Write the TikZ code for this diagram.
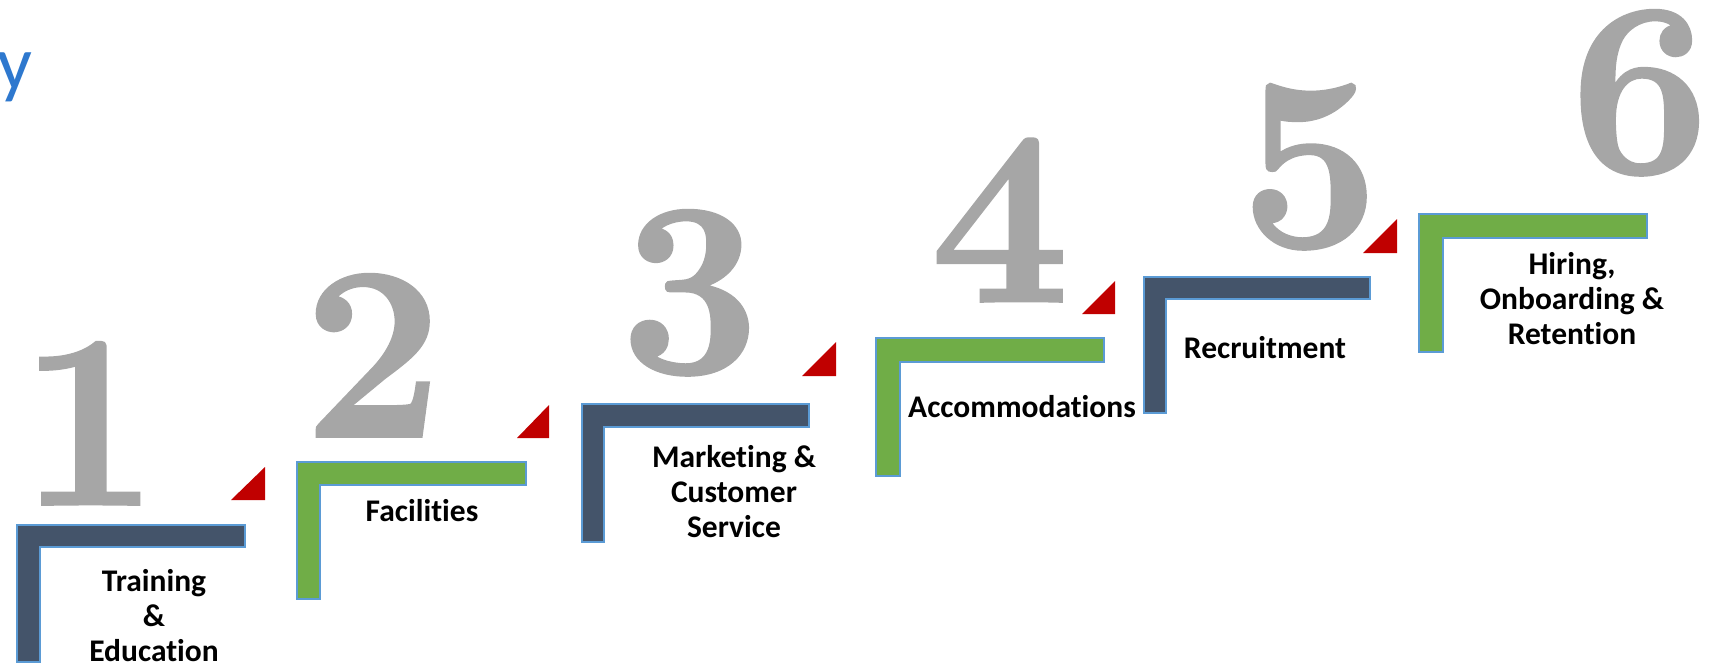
\documentclass[tikz,border=0pt]{standalone}
\usepackage{fontspec}
\newfontfamily\labelfont[Ligatures=NoCommon]{Carlito}
\newfontfamily\numfont[FakeBold=1.5]{Latin Modern Roman}
\definecolor{slate}{HTML}{44546A}
\definecolor{leaf}{HTML}{70AD47}
\definecolor{edgeblue}{HTML}{5B9BD5}
\definecolor{markred}{HTML}{C00000}
\definecolor{numgray}{HTML}{A6A6A6}
\definecolor{titleblue}{HTML}{2E78CE}
\begin{document}
\begin{tikzpicture}[x=1pt,y=-1pt,
  stepdark/.style={fill=slate,draw=edgeblue,line width=1.5pt},
  stepgreen/.style={fill=leaf,draw=edgeblue,line width=1.5pt},
  marker/.style={fill=markred},
  numeral/.style={text=numgray,inner sep=0pt,anchor=base,
    font=\numfont\fontsize{246}{246}\selectfont\bfseries},
  steplabel/.style={inner sep=0pt,align=center,
    font=\labelfont\bfseries\fontsize{31.5}{35}\selectfont}]
\useasboundingbox (0,0) rectangle (1727,665);
\clip (0,0) rectangle (1727,665);

% tail of the title line
\node[text=titleblue,inner sep=0pt,anchor=base east,
  font=\labelfont\fontsize{77}{77}\selectfont] (title) at (33,89) {y};

% stair steps: L-shaped brackets
\draw[stepdark]  (17,525) -- (245,525) -- (245,547) -- (40,547) -- (40,662) -- (17,662) -- cycle;
\draw[stepgreen] (297,462) -- (526,462) -- (526,485) -- (320,485) -- (320,599) -- (297,599) -- cycle;
\draw[stepdark]  (582,404) -- (809,404) -- (809,427) -- (604,427) -- (604,542) -- (582,542) -- cycle;
\draw[stepgreen] (876,338) -- (1104,338) -- (1104,362) -- (900,362) -- (900,476) -- (876,476) -- cycle;
\draw[stepdark]  (1144,277) -- (1370,277) -- (1370,299) -- (1166,299) -- (1166,413) -- (1144,413) -- cycle;
\draw[stepgreen] (1419,214) -- (1647,214) -- (1647,238) -- (1443,238) -- (1443,352) -- (1419,352) -- cycle;

% red corner markers
\fill[marker] (231,500) -- (265,500) -- (265,467) -- cycle;
\fill[marker] (517,438) -- (549,438) -- (549,405) -- cycle;
\fill[marker] (802,376) -- (836,376) -- (836,342) -- cycle;
\fill[marker] (1082,314) -- (1115,314) -- (1115,281) -- cycle;
\fill[marker] (1363,253) -- (1397,253) -- (1397,219) -- cycle;

% step numbers
\node[numeral] (n1) at (89,504) {1};
\node[numeral] (n2) at (373,436) {2};
\node[numeral] (n3) at (690,372) {3};
\node[numeral] (n4) at (1000,301) {4};
\node[numeral] (n5) at (1310,246) {5};
\node[numeral] (n6) at (1640,172) {6};

% step labels
\node[steplabel] (t1) at (154,616) {Training\\\&\\Education};
\node[steplabel] (t2) at (422,511) {Facilities};
\node[steplabel] (t3) at (734,492) {Marketing \&\\Customer\\Service};
\node[steplabel] (t4) at (1022,407) {Accommodations};
\node[steplabel] (t5) at (1265,348) {Recruitment};
\node[steplabel] (t6) at (1572,299) {Hiring,\\Onboarding \&\\Retention};
\end{tikzpicture}
\end{document}
